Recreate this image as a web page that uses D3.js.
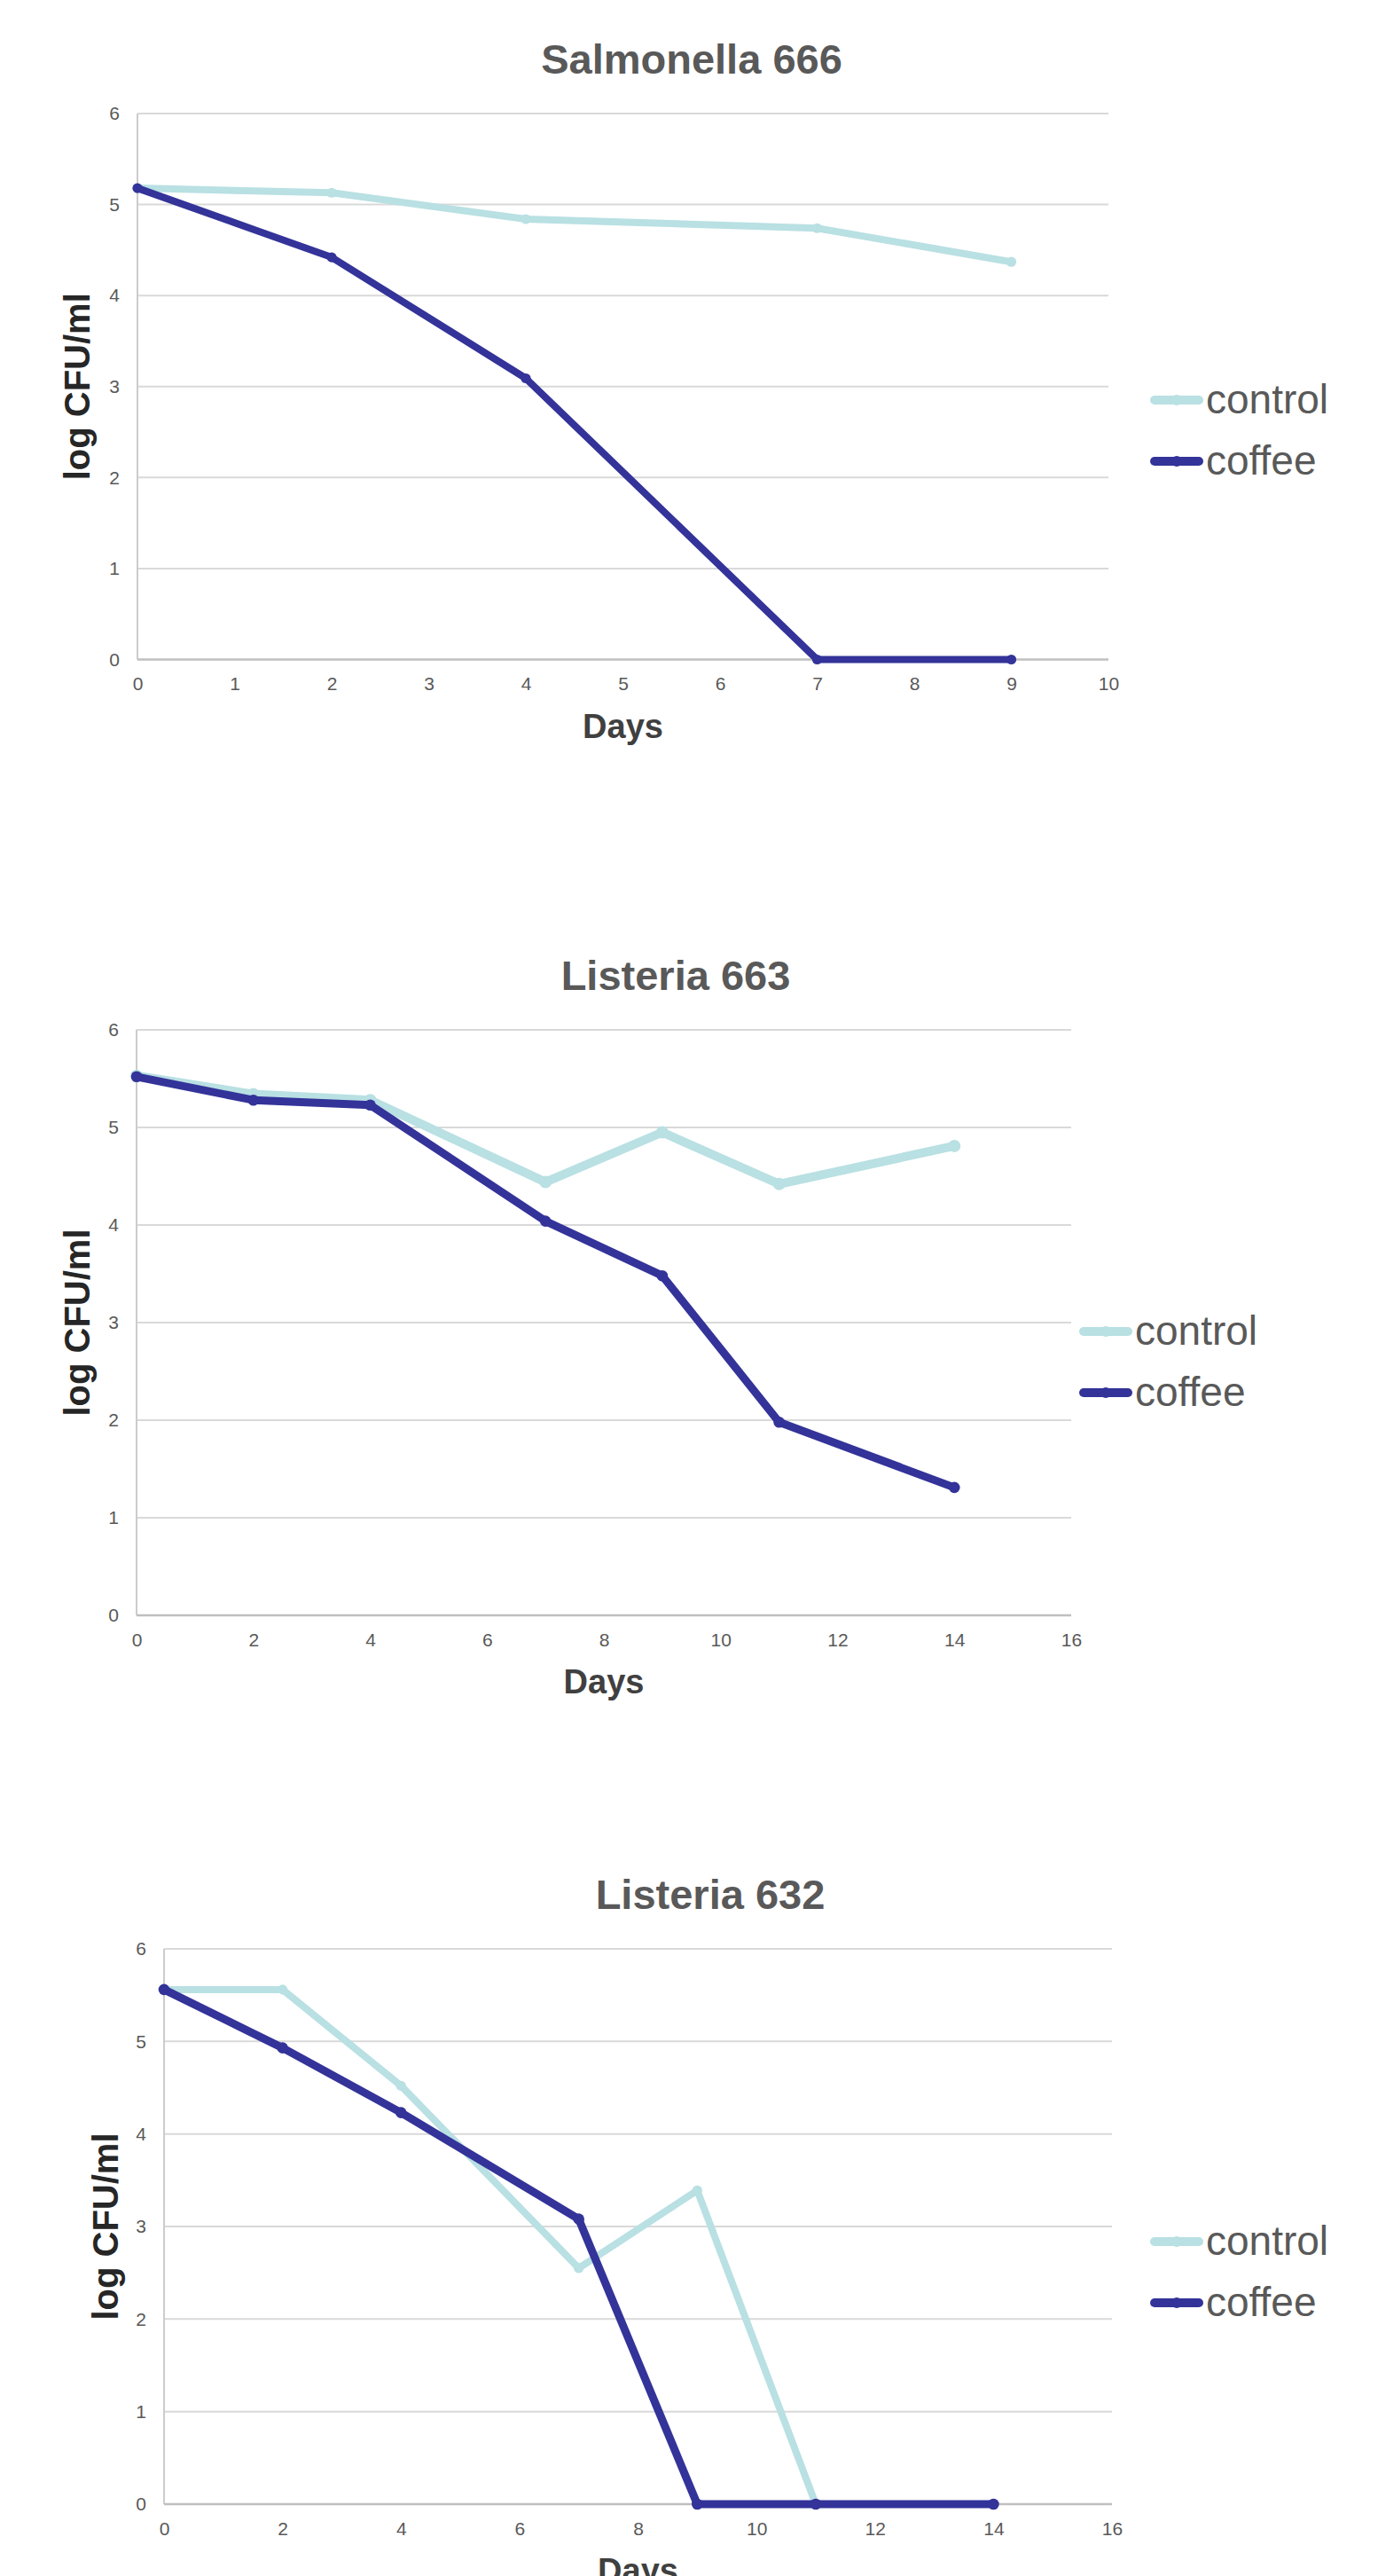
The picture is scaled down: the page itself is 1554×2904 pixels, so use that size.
<!DOCTYPE html>
<html>
<head>
<meta charset="utf-8">
<script src="https://cdn.jsdelivr.net/npm/d3@7/dist/d3.min.js"></script>
<style>
  html, body { margin: 0; padding: 0; background: #ffffff; }
  svg { display: block; font-family: "Liberation Sans", Arial, sans-serif; }
</style>
</head>
<body>
<svg id="chart" width="1554" height="2904"></svg>
<script>
// ---------------- DATA ----------------
const seriesNames = ["control", "coffee"];

const titles = ["Salmonella 666", "Listeria 663", "Listeria 632"];
const xAxisTitle = "Days";
const yAxisTitle = "log CFU/ml";

// Chart 1: Salmonella 666
const s666Days = [0, 2, 4, 7, 9];
const s666Control = [5.18, 5.13, 4.84, 4.74, 4.37];
const s666Coffee = [5.18, 4.42, 3.09, 0, 0];
const s666XTicks = [0, 1, 2, 3, 4, 5, 6, 7, 8, 9, 10];

// Chart 2: Listeria 663
const l663Days = [0, 2, 4, 7, 9, 11, 14];
const l663Control = [5.53, 5.34, 5.28, 4.44, 4.95, 4.42, 4.81];
const l663Coffee = [5.52, 5.28, 5.23, 4.04, 3.48, 1.98, 1.31];
const l663XTicks = [0, 2, 4, 6, 8, 10, 12, 14, 16];

// Chart 3: Listeria 632
const l632ControlDays = [0, 2, 4, 7, 9, 11];
const l632Control = [5.56, 5.56, 4.52, 2.55, 3.39, 0];
const l632CoffeeDays = [0, 2, 4, 7, 9, 11, 14];
const l632Coffee = [5.56, 4.93, 4.23, 3.08, 0, 0, 0];
const l632XTicks = [0, 2, 4, 6, 8, 10, 12, 14, 16];

const yTicks = [0, 1, 2, 3, 4, 5, 6];

// ---------------- STYLE / LAYOUT ----------------
const colors = { control: "#b9e0e3", coffee: "#333399" };

const layouts = [
  { x0: 155, x1: 1250, yTop: 128, yBot: 743.5, xMax: 10, titleX: 780, legendX: 1297, legendY: 451, yLabelX: 101, widths: [8, 8] },
  { x0: 154, x1: 1208, yTop: 1161, yBot: 1821, xMax: 16, titleX: 762, legendX: 1217, legendY: 1501, yLabelX: 101, widths: [10, 9] },
  { x0: 185, x1: 1254, yTop: 2197, yBot: 2823, xMax: 16, titleX: 801, legendX: 1297, legendY: 2527, yLabelX: 133, widths: [8, 9] }
];

const charts = [
  { title: titles[0], xTicks: s666XTicks, series: [
      { name: seriesNames[0], days: s666Days, values: s666Control },
      { name: seriesNames[1], days: s666Days, values: s666Coffee } ] },
  { title: titles[1], xTicks: l663XTicks, series: [
      { name: seriesNames[0], days: l663Days, values: l663Control },
      { name: seriesNames[1], days: l663Days, values: l663Coffee } ] },
  { title: titles[2], xTicks: l632XTicks, series: [
      { name: seriesNames[0], days: l632ControlDays, values: l632Control },
      { name: seriesNames[1], days: l632CoffeeDays, values: l632Coffee } ] }
];

const svg = d3.select("#chart");

charts.forEach((c, i) => {
  const L = layouts[i];
  const g = svg.append("g");

  const x = d3.scaleLinear().domain([0, L.xMax]).range([L.x0, L.x1]);
  const y = d3.scaleLinear().domain([0, 6]).range([L.yBot, L.yTop]);

  // gridlines
  g.append("g").selectAll("line.grid").data(yTicks.filter(t => t > 0)).join("line")
    .attr("x1", L.x0).attr("x2", L.x1)
    .attr("y1", d => y(d)).attr("y2", d => y(d))
    .attr("stroke", "#d9d9d9").attr("stroke-width", 2);

  // left axis line
  g.append("line")
    .attr("x1", L.x0).attr("x2", L.x0)
    .attr("y1", y(6)).attr("y2", y(0))
    .attr("stroke", "#cccccc").attr("stroke-width", 2);

  // bottom axis line
  g.append("line")
    .attr("x1", L.x0).attr("x2", L.x1)
    .attr("y1", y(0)).attr("y2", y(0))
    .attr("stroke", "#bfbfbf").attr("stroke-width", 2.5);

  // y axis ticks
  const yAxis = d3.axisLeft(y).tickValues(yTicks).tickSize(0).tickPadding(20).tickFormat(d3.format("d"));
  const ya = g.append("g").attr("transform", `translate(${L.x0},0)`).call(yAxis);
  ya.select(".domain").remove();
  ya.selectAll("text").attr("font-size", 21).attr("fill", "#595959")
    .attr("font-family", "'Liberation Sans', Arial, sans-serif");

  // x axis ticks
  const xAxis = d3.axisBottom(x).tickValues(c.xTicks).tickSize(0).tickPadding(20).tickFormat(d3.format("d"));
  const xa = g.append("g").attr("transform", `translate(0,${L.yBot})`).call(xAxis);
  xa.select(".domain").remove();
  xa.selectAll("text").attr("font-size", 21).attr("fill", "#595959")
    .attr("font-family", "'Liberation Sans', Arial, sans-serif");

  // title
  g.append("text")
    .attr("x", L.titleX).attr("y", L.yTop - 45)
    .attr("text-anchor", "middle")
    .attr("font-size", 47).attr("font-weight", "bold").attr("fill", "#595959")
    .text(c.title);

  // x axis title
  g.append("text")
    .attr("x", (L.x0 + L.x1) / 2).attr("y", L.yBot + 88)
    .attr("text-anchor", "middle")
    .attr("font-size", 38).attr("font-weight", "bold").attr("fill", "#404040")
    .text(xAxisTitle);

  // y axis title
  g.append("text")
    .attr("transform", `translate(${L.yLabelX},${(L.yTop + L.yBot) / 2}) rotate(-90)`)
    .attr("text-anchor", "middle")
    .attr("font-size", 40).attr("font-weight", "bold").attr("fill", "#262626")
    .text(yAxisTitle);

  // lines
  const line = d3.line().x(d => x(d[0])).y(d => y(d[1]));
  c.series.forEach((s, si) => {
    const pts = s.days.map((d, k) => [d, s.values[k]]);
    g.append("path")
      .datum(pts)
      .attr("d", line)
      .attr("fill", "none")
      .attr("stroke", colors[s.name])
      .attr("stroke-width", L.widths[si])
      .attr("stroke-linejoin", "round")
      .attr("stroke-linecap", "round");
    g.append("g").selectAll("circle").data(pts).join("circle")
      .attr("cx", d => x(d[0])).attr("cy", d => y(d[1]))
      .attr("r", L.widths[si] * 0.7)
      .attr("fill", colors[s.name]);
  });

  // legend
  const lg = g.append("g").attr("transform", `translate(${L.legendX},${L.legendY})`);
  c.series.forEach((s, si) => {
    const row = lg.append("g").attr("transform", `translate(0,${si * 69})`);
    row.append("line")
      .attr("x1", 5).attr("x2", 55).attr("y1", 0).attr("y2", 0)
      .attr("stroke", colors[s.name]).attr("stroke-width", 10)
      .attr("stroke-linecap", "round");
    row.append("circle").attr("cx", 30).attr("cy", 0).attr("r", 6).attr("fill", colors[s.name]);
    row.append("text")
      .attr("x", 63).attr("y", 15)
      .attr("font-size", 46).attr("fill", "#595959")
      .text(s.name);
  });
});
</script>
</body>
</html>
